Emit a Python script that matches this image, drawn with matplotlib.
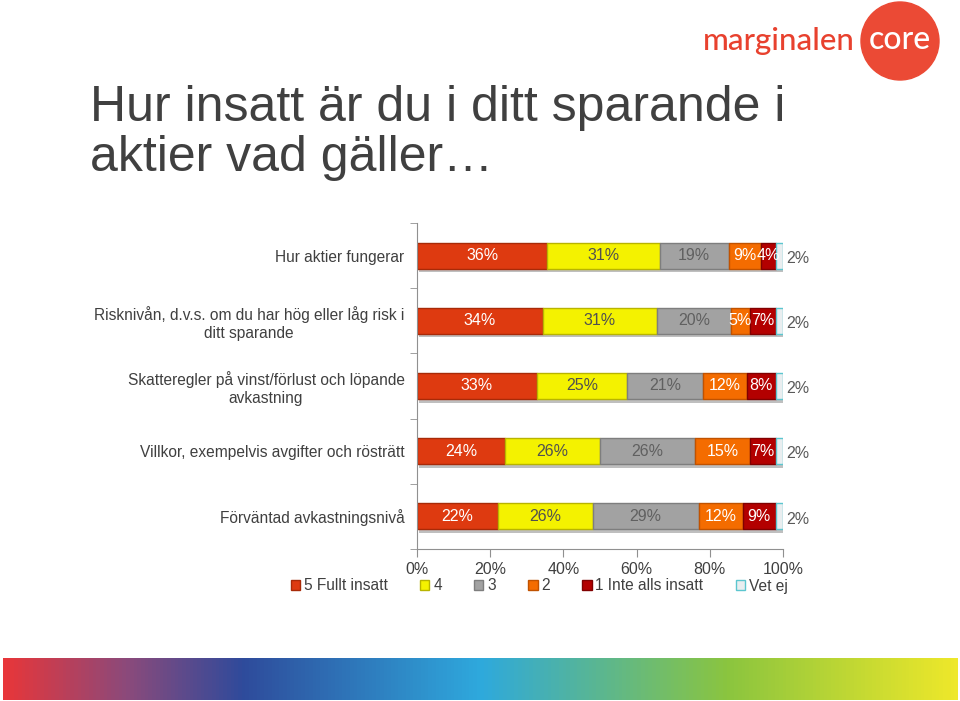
"""
Hur insatt är du i ditt sparande i aktier — staplade horisontella staplar (andel svar per kategori).
"""

import matplotlib.pyplot as plt
import matplotlib.patheffects as pe
import numpy as np
from matplotlib.colors import LinearSegmentedColormap
from matplotlib.patches import Circle, Patch

plt.rcParams["font.family"] = ["Liberation Sans", "DejaVu Sans"]

# Kategorier, uppifrån och ned
kategorier = [
    "Hur aktier fungerar",
    "Risknivån, d.v.s. om du har hög eller låg risk i\nditt sparande",
    "Skatteregler på vinst/förlust och löpande\navkastning",
    "Villkor, exempelvis avgifter och rösträtt",
    "Förväntad avkastningsnivå",
]

serienamn = ["5 Fullt insatt", "4", "3", "2", "1 Inte alls insatt", "Vet ej"]

fullt_insatt = [36, 34, 33, 24, 22]
fyra = [31, 31, 25, 26, 26]
tre = [19, 20, 21, 26, 29]
tva = [9, 5, 12, 15, 12]
inte_alls = [4, 7, 8, 7, 9]
vet_ej = [2, 2, 2, 2, 2]

x_ticks = [0, 20, 40, 60, 80, 100]

serier = [fullt_insatt, fyra, tre, tva, inte_alls, vet_ej]
farger = ["#DE3A10", "#F4F200", "#A2A2A2", "#F46C00", "#B30000", "#E9EEF0"]
kanter = ["#A82A08", "#B8B400", "#7E7E7E", "#C05200", "#800000", "#5CC6CF"]
textfarger = ["white", "#505050", "#606060", "white", "white", "#595959"]

GRA = "#404040"

fig = plt.figure(figsize=(9.6, 7.01), dpi=100)

# --- Rubrik ---
fig.text(90 / 960, 1 - 121 / 701, "Hur insatt är du i ditt sparande i",
         fontsize=36, color=GRA, va="baseline", ha="left")
fig.text(90 / 960, 1 - 171 / 701, "aktier vad gäller…",
         fontsize=36, color=GRA, va="baseline", ha="left")

# --- Logotyp ---
logo_ax = fig.add_axes([0, 0, 1, 1], zorder=-1)
logo_ax.set_xlim(0, 960)
logo_ax.set_ylim(701, 0)
logo_ax.axis("off")
logo_ax.add_patch(Circle((900, 41), 39, color="#EB4A35"))
logo_ax.text(779, 41, "marginalen", color="#E8412E", fontsize=22.5,
             family=["Lato", "DejaVu Sans"], fontweight="medium", ha="center", va="center")
logo_ax.text(900, 40, "core", color="white", fontsize=23,
             family=["Lato", "DejaVu Sans"], fontweight="medium", ha="center", va="center")

# --- Färgband längst ned ---
band_ax = fig.add_axes([3 / 960, 1 - 700 / 701, 954 / 960, 42 / 701])
band_cmap = LinearSegmentedColormap.from_list(
    "band",
    [(0.0, "#E8363A"), (0.13, "#8A4A7C"), (0.25, "#2F4B9B"),
     (0.5, "#2EA9DD"), (0.76, "#8BC53F"), (1.0, "#EEE82A")],
)
band_ax.imshow(np.linspace(0, 1, 256)[None, :], aspect="auto", cmap=band_cmap)
band_ax.axis("off")

# --- Diagram ---
ax = fig.add_axes([417 / 960, 1 - 549 / 701, 366 / 960, 326 / 701])
y = np.arange(len(kategorier))
data = np.array(serier, dtype=float)
# Avrundade procentsatser: skala om så att varje rad fyller 100 %
andel = data / data.sum(axis=0) * 100
vanster = np.zeros(len(kategorier))
skugga = [pe.SimplePatchShadow(offset=(1.5, -2.5), shadow_rgbFace="#808080", alpha=0.5), pe.Normal()]

for i, namn in enumerate(serienamn):
    staplar = ax.barh(y, andel[i], left=vanster, height=0.4, color=farger[i],
                      edgecolor=kanter[i], linewidth=1, label=namn)
    for s in staplar:
        s.set_path_effects(skugga)
    for yi, v, w, l in zip(y, data[i], andel[i], vanster):
        if namn == "Vet ej":
            ax.text(l + w + 1, yi + 0.04, f"{v:.0f}%", ha="left", va="center",
                    fontsize=11.5, color=textfarger[i], clip_on=False)
        else:
            ax.text(l + w / 2, yi, f"{v:.0f}%", ha="center", va="center",
                    fontsize=11.5, color=textfarger[i])
    vanster += andel[i]

ax.set_xlim(0, 100)
ax.set_ylim(len(kategorier) - 0.5, -0.5)
ax.set_xticks(x_ticks)
ax.set_xticklabels([f"{t}%" for t in x_ticks], fontsize=11.5, color=GRA)
ax.set_yticks(y)
ax.set_yticklabels(kategorier, fontsize=11.2, color=GRA, multialignment="center")
ax.set_yticks(np.arange(len(kategorier) + 1) - 0.5, minor=True)
ax.tick_params(axis="y", which="major", length=0, pad=9)
ax.tick_params(axis="y", which="minor", length=5, color="#909090")
ax.tick_params(axis="x", length=6, color="#909090", pad=3)
for side in ["top", "right"]:
    ax.spines[side].set_visible(False)
for side in ["left", "bottom"]:
    ax.spines[side].set_color("#909090")

# --- Teckenförklaring ---
handtag = [Patch(facecolor=farger[i], edgecolor=kanter[i]) for i in range(len(serienamn))]
fig.legend(handtag, serienamn, loc="center left", bbox_to_anchor=(283 / 960, 1 - 586 / 701),
           ncol=6, frameon=False, fontsize=11.2, handlelength=0.6, handleheight=0.6,
           handletextpad=0.25, columnspacing=2.07, borderpad=0, labelcolor=GRA)

plt.savefig("out.png", dpi=100)
plt.close()
